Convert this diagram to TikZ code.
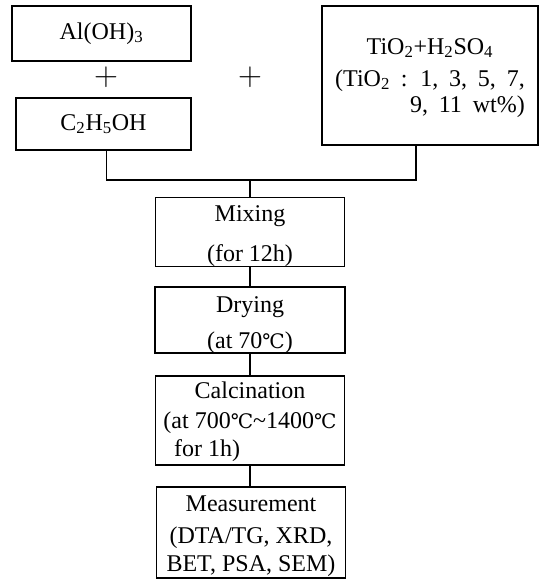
\documentclass[tikz,border=0pt]{standalone}
\usepackage{fontspec}
\setmainfont{Liberation Serif}
\newfontfamily\degfont{DejaVu Serif}
\newcommand{\degc}{{\degfont\fontsize{15}{15}\selectfont ℃}}
\newcommand{\widesp}{\spaceskip=.45em\relax}
\usepackage{tikz}
\usetikzlibrary{positioning}

\begin{document}
\begin{tikzpicture}[x=0.75pt, y=-0.75pt,
    box/.style={draw, line width=1.1pt, inner sep=0pt, align=center,
        font=\fontsize{18}{22}\selectfont},
    plus/.style={inner sep=0pt, font=\fontsize{27}{27}\selectfont},
    conn/.style={line width=0.8pt}]
    \useasboundingbox (0,0) rectangle (539,580);

    % starting materials
    \node[box, minimum width=134.3pt, minimum height=41.3pt] (al) at (101.5,33.5) {Al(OH)\textsubscript{3}};
    \node[box, minimum width=131.3pt, minimum height=39pt] (eth) at (103.5,124) {C\textsubscript{2}H\textsubscript{5}OH};
    \node[box, minimum width=162pt, minimum height=104.3pt] (tio) at (430,75.5)
        {\rule{0pt}{18.5pt}TiO\textsubscript{2}+H\textsubscript{2}SO\textsubscript{4}\\[2pt]
         \begin{tabular}[t]{@{}r@{}}\widesp(TiO\textsubscript{2} : 1, 3, 5, 7,\\[-2pt] \widesp 9, 11 wt\%)\end{tabular}};
    \node[plus] (p1) at (106,77) {$+$};
    \node[plus] (p2) at (250,77) {$+$};

    % process steps
    \node[box, minimum width=141.8pt, minimum height=51pt] (mix) at (250,232)
        {\rule{0pt}{18pt}Mixing\\[8pt](for 12h)};
    \node[box, minimum width=142.5pt, minimum height=49.5pt] (dry) at (250,320)
        {\rule{0pt}{19pt}Drying\\[5pt](at 70\degc)};
    \node[box, minimum width=141.8pt, minimum height=66.8pt] (cal) at (250,420.5)
        {\rule{0pt}{17pt}Calcination\\ \begin{tabular}[t]{@{}l@{}}(at 700\degc\textasciitilde1400\degc\\[-1pt] \hspace{8pt}for 1h)\end{tabular}};
    \node[box, minimum width=141.8pt, minimum height=68.3pt] (mea) at (251,532.5)
        {\rule{0pt}{17pt}Measurement\\[2pt](DTA/TG, XRD,\\[-1pt] BET, PSA, SEM)};

    % connectors
    \coordinate (jn) at (250,180);
    \draw[conn] ([xshift=2pt]eth.south) |- (jn) -| ([xshift=-10.5pt]tio.south);
    \draw[conn] (jn) -- (mix.north);
    \draw[conn] (mix.south) -- (dry.north);
    \draw[conn] (dry.south) -- (cal.north);
    \draw[conn] (cal.south) -- (cal.south |- mea.north);
\end{tikzpicture}
\end{document}
